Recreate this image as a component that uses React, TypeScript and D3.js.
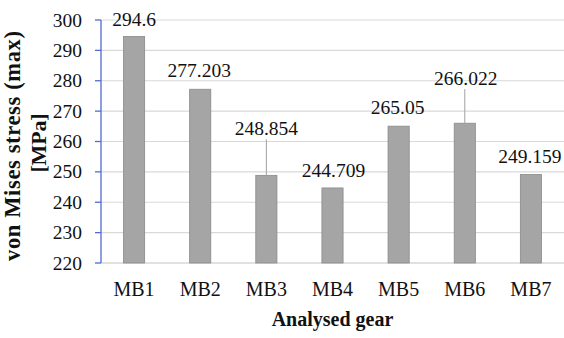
import React from "react";
import * as d3 from "d3";

const categories = ["MB1", "MB2", "MB3", "MB4", "MB5", "MB6", "MB7"];
const values = [294.6, 277.203, 248.854, 244.709, 265.05, 266.022, 249.159];
const valueLabels = ["294.6", "277.203", "248.854", "244.709", "265.05", "266.022", "249.159"];
const yTicks = [220, 230, 240, 250, 260, 270, 280, 290, 300];
// label baseline offset above bar top (px) and whether a leader line is drawn
const labelOffsets = [-10, -12, -40, -11, -12, -38, -11];
const labelDx = [0, -1, 0, 1, -1, 1, -1];
const leaders = [false, false, true, false, false, true, false];

const W = 564;
const H = 338;
const left = 101;
const right = 564;
const top = 20;
const bottom = 263;
const FONT = "'Liberation Serif', 'Times New Roman', serif";

export default function App() {
  const x = d3.scaleBand<string>().domain(categories).range([left, right]).paddingInner(0.68).paddingOuter(0.34);
  const y = d3.scaleLinear().domain([220, 300]).range([bottom, top]);
  return (
    <svg width={W} height={H} style={{ position: "absolute", left: 0, top: 0, background: "#fff" }}>
      <rect x={0} y={0} width={W} height={H} fill="#fff" />
      {yTicks.filter((t) => t !== 220).map((t) => (
        <line key={"g" + t} x1={left} x2={right} y1={y(t)} y2={y(t)} stroke="#d9d9d9" strokeWidth={1.2} />
      ))}
      <line x1={left} x2={right} y1={bottom} y2={bottom} stroke="#c4c4c4" strokeWidth={1.2} />
      {categories.map((c, i) => (
        <rect
          key={c}
          x={x(c)!}
          y={y(values[i])}
          width={x.bandwidth()}
          height={bottom - y(values[i])}
          fill="#a5a5a5"
          stroke="#8a8a8a"
          strokeWidth={0.8}
        />
      ))}
      <line x1={left} x2={left} y1={top} y2={bottom} stroke="#4f6bd1" strokeWidth={1.3} />
      {yTicks.map((t) => (
        <g key={"t" + t}>
          <line x1={left - 6} x2={left} y1={y(t)} y2={y(t)} stroke="#4f6bd1" strokeWidth={1.3} />
          <text x={82} y={y(t) + 6.5} textAnchor="end" fontFamily={FONT} fontSize={19.5} fill="#111">
            {t}
          </text>
        </g>
      ))}
      {categories.map((c, i) => {
        const cx = x(c)! + x.bandwidth() / 2;
        const by = y(values[i]) + labelOffsets[i];
        return (
          <g key={"l" + c}>
            {leaders[i] && (
              <line x1={cx} x2={cx} y1={by + 4} y2={y(values[i])} stroke="#a0a0a0" strokeWidth={1} />
            )}
            <text x={cx + labelDx[i]} y={by} textAnchor="middle" fontFamily={FONT} fontSize={19.5} fill="#111">
              {valueLabels[i]}
            </text>
            <text x={cx} y={296} textAnchor="middle" fontFamily={FONT} fontSize={20} fill="#111">
              {c}
            </text>
          </g>
        );
      })}
      <text x={(left + right) / 2} y={326} textAnchor="middle" fontFamily={FONT} fontSize={20} fontWeight="bold" fill="#111">
        Analysed gear
      </text>
      <g transform={`translate(20, 146) rotate(-90)`}>
        <text x={0} y={0} textAnchor="middle" fontFamily={FONT} fontSize={22.5} fontWeight="bold" fill="#111"
          textLength={230} lengthAdjust="spacing">
          von Mises stress (max)
        </text>
      </g>
      <g transform={`translate(46, 143) rotate(-90)`}>
        <text x={0} y={0} textAnchor="middle" fontFamily={FONT} fontSize={22} fontWeight="bold" fill="#111"
          textLength={59} lengthAdjust="spacing">
          [MPa]
        </text>
      </g>
    </svg>
  );
}
